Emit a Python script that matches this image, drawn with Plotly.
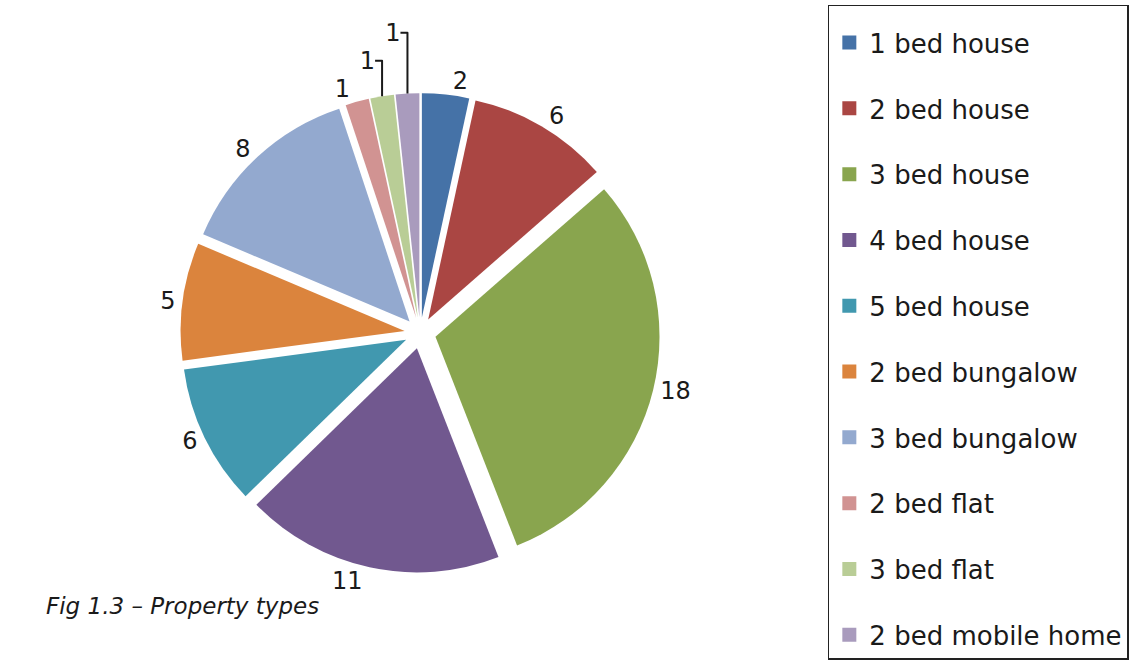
import plotly.graph_objects as go

categories = ["1 bed house", "2 bed house", "3 bed house", "4 bed house", "5 bed house",
              "2 bed bungalow", "3 bed bungalow", "2 bed flat", "3 bed flat", "2 bed mobile home"]
values = [2, 6, 18, 11, 6, 5, 8, 1, 1, 1]
colors = ["#4572A7", "#AA4643", "#89A54E", "#71588F", "#4198AF",
          "#DB843D", "#93A9CF", "#D19392", "#B9CD96", "#A99BBD"]
caption = "Fig 1.3 \u2013 Property types"

FONT = "DejaVu Sans"

fig = go.Figure()
fig.add_trace(go.Pie(
    labels=categories, values=values, sort=False, direction="clockwise", rotation=0,
    marker=dict(colors=colors, line=dict(width=0)),
    pull=0.07, textinfo="value", textposition="outside",
    outsidetextfont=dict(family=FONT, size=24, color="#1a1a1a"),
    domain=dict(x=[0.08, 0.654], y=[0.14, 0.86]),
    showlegend=False, hoverinfo="label+value",
))

for name, c in zip(categories, colors):
    fig.add_trace(go.Scatter(
        x=[None], y=[None], mode="markers", name=name, legendgroup=name,
        marker=dict(symbol="square", size=14, color=c), showlegend=True,
    ))

fig.add_annotation(
    text="<i>" + caption + "</i>", xref="paper", yref="paper",
    x=0.038, y=0.09, xanchor="left", yanchor="middle", showarrow=False,
    font=dict(family=FONT, size=23, color="#1a1a1a"),
)

fig.update_layout(
    width=1145, height=666,
    margin=dict(l=0, r=0, t=0, b=0, autoexpand=False),
    paper_bgcolor="white", plot_bgcolor="white",
    xaxis=dict(visible=False), yaxis=dict(visible=False),
    legend=dict(
        x=0.723, y=0.993, xanchor="left", yanchor="top",
        font=dict(family=FONT, size=26, color="#1a1a1a"),
        title=dict(text=" ", font=dict(size=10)),
        bordercolor="#222", borderwidth=1.5, bgcolor="white",
        tracegroupgap=29, traceorder="grouped",
    ),
)

fig.write_html("out.html", post_script="document.body.style.margin='0';",
               config={"displayModeBar": False})
